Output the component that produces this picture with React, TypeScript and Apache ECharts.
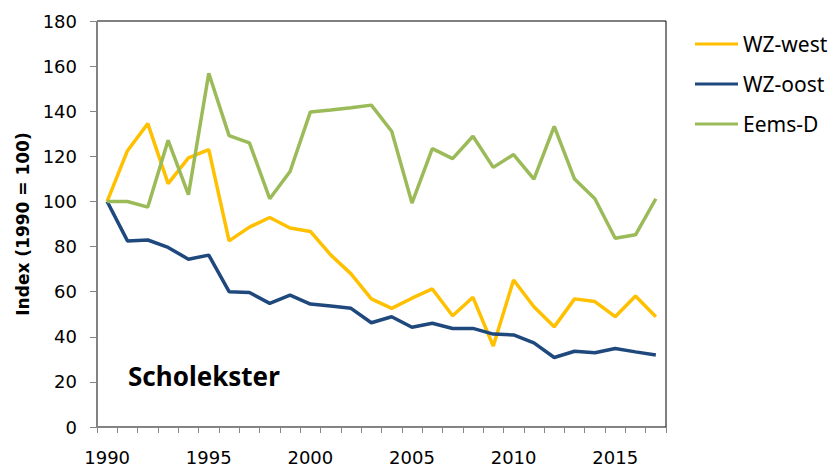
import React, { useEffect, useRef } from "react";
import * as echarts from "echarts";

const years: string[] = [
  "1990", "1991", "1992", "1993", "1994", "1995", "1996", "1997", "1998", "1999",
  "2000", "2001", "2002", "2003", "2004", "2005", "2006", "2007", "2008", "2009",
  "2010", "2011", "2012", "2013", "2014", "2015", "2016", "2017",
];

const wzWest: number[] = [
  100, 122.5, 134.5, 107.9, 119.3, 123, 82.5, 88.6, 92.9, 88.2,
  86.7, 76.3, 67.9, 56.8, 52.6, 57.1, 61.2, 49.3, 57.5, 35.9,
  65.2, 53.3, 44.4, 56.8, 55.6, 48.9, 58.1, 48.9,
];

const wzOost: number[] = [
  100, 82.5, 82.9, 79.6, 74.4, 76.2, 60, 59.6, 54.8, 58.5,
  54.5, 53.6, 52.6, 46.2, 48.9, 44.2, 46, 43.7, 43.7, 41.2,
  40.8, 37.3, 30.8, 33.6, 32.9, 34.8, 33.3, 31.9,
];

const eemsD: number[] = [
  100, 100, 97.5, 127.1, 103, 156.8, 129.2, 126, 101.2, 113.3,
  139.7, 140.5, 141.5, 142.7, 131.1, 99.3, 123.4, 119, 128.9, 115.1,
  120.8, 109.9, 133.3, 109.9, 101.2, 83.7, 85.2, 101.2,
];

const seriesNames: string[] = ["WZ-west", "WZ-oost", "Eems-D"];
const seriesColors: string[] = ["#FFC000", "#1F497D", "#9BBB59"];
const yAxisTitle = "Index (1990 = 100)";
const panelTitle = "Scholekster";

export default function App() {
  const ref = useRef<HTMLDivElement | null>(null);

  useEffect(() => {
    if (!ref.current) return;
    document.body.style.margin = "0";
    document.body.style.overflow = "hidden";
    const chart = echarts.init(ref.current, undefined, { renderer: "svg" });
    const data = [wzWest, wzOost, eemsD];
    chart.setOption({
      animation: false,
      backgroundColor: "#ffffff",
      grid: {
        left: 97,
        right: 166,
        top: 21,
        bottom: 39,
        show: true,
        borderColor: "#000000",
        borderWidth: 1,
        backgroundColor: "transparent",
      },
      legend: {
        orient: "vertical",
        left: 690,
        top: 28,
        itemWidth: 43,
        itemHeight: 3,
        itemGap: 18,
        icon: "rect",
        data: seriesNames,
        textStyle: {
          fontFamily: "Noto Sans",
          fontSize: 21,
          lineHeight: 22,
          color: "#000000",
        },
      },
      xAxis: {
        type: "category",
        data: years,
        boundaryGap: true,
        axisLine: { show: true, lineStyle: { color: "#868686", width: 1 } },
        axisTick: { show: true, interval: 0, length: 6, lineStyle: { color: "#868686" } },
        axisLabel: {
          interval: 4,
          margin: 21,
          fontFamily: "DejaVu Sans",
          fontSize: 18,
          color: "#000000",
        },
        splitLine: { show: false },
      },
      yAxis: {
        type: "value",
        min: 0,
        max: 180,
        interval: 20,
        name: yAxisTitle,
        nameLocation: "middle",
        nameGap: 64,
        nameTextStyle: {
          fontFamily: "DejaVu Sans",
          fontWeight: "bold",
          fontSize: 17,
          color: "#000000",
        },
        axisLine: { show: true, lineStyle: { color: "#868686", width: 1 } },
        axisTick: { show: true, length: 7, lineStyle: { color: "#868686" } },
        axisLabel: {
          margin: 20,
          fontFamily: "DejaVu Sans",
          fontSize: 18,
          color: "#000000",
        },
        splitLine: { show: false },
      },
      graphic: [
        {
          type: "text",
          x: 128,
          y: 376,
          style: {
            text: panelTitle,
            fontFamily: "Noto Sans",
            fontWeight: "bold",
            fontSize: 26,
            fill: "#000000",
            align: "left",
            verticalAlign: "middle",
          },
        },
      ],
      series: seriesNames.map((name, i) => ({
        name,
        type: "line",
        data: data[i],
        symbol: "none",
        color: seriesColors[i],
        lineStyle: { color: seriesColors[i], width: 3.5 },
        itemStyle: { color: seriesColors[i] },
      })),
    });
    return () => chart.dispose();
  }, []);

  return (
    <div
      ref={ref}
      style={{ position: "absolute", left: 0, top: 0, width: 832, height: 466 }}
    />
  );
}
